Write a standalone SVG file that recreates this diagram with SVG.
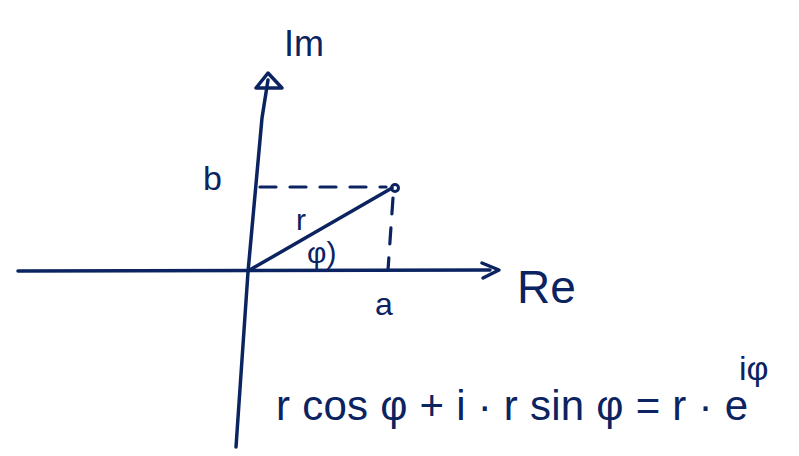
<svg xmlns="http://www.w3.org/2000/svg" width="799" height="456" viewBox="0 0 799 456">
<style>
.ln{fill:none;stroke:#0b2461;stroke-width:3.5;stroke-linecap:round;stroke-linejoin:round}
.ds{fill:none;stroke:#0b2461;stroke-width:3.2;stroke-linecap:round;stroke-dasharray:16 14}
.t{font-family:"Liberation Sans",Arial,sans-serif;fill:#0b2461}
</style>
<rect width="799" height="456" fill="#ffffff"/>
<g id="connectors">
<path id="re-axis" class="ln" d="M18 271 L490 270"/>
<path id="re-arrow" class="ln" d="M482 263 L499 270 L483 278"/>
<path id="im-axis" class="ln" d="M236 447 L248 272 L262 118 L268 80"/>
<path id="im-arrow" class="ln" d="M268 73 L256 88 L282 88 Z"/>
<path id="radius" class="ln" d="M248 271 L392 188"/>
<path id="dash-b" class="ds" d="M260 187 L386 187"/>
<path id="dash-a" class="ds" d="M393 198 L388 270"/>
</g>
<g id="point"><circle cx="395" cy="188" r="3.5" fill="none" stroke="#0b2461" stroke-width="3"/></g>
<g id="label-im"><text class="t" x="284" y="56" font-size="36">Im</text></g>
<g id="label-b"><text class="t" x="203" y="190" font-size="34">b</text></g>
<g id="label-r"><text class="t" x="296" y="230" font-size="30">r</text></g>
<g id="label-phi"><text class="t" x="307" y="263" font-size="30">φ)</text></g>
<g id="label-a"><text class="t" x="375" y="315" font-size="32">a</text></g>
<g id="label-re"><text class="t" x="517" y="303" font-size="46">Re</text></g>
<g id="formula">
<text class="t" x="276" y="420" font-size="42" textLength="472" lengthAdjust="spacing">r cos φ + i · r sin φ = r · e</text>
<text class="t" x="739" y="380" font-size="34">iφ</text>
</g>
</svg>
